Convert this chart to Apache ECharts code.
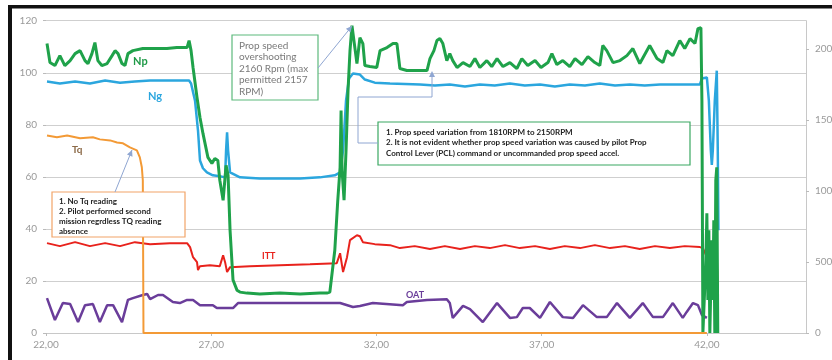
<!DOCTYPE html>
<html>
<head>
<meta charset="utf-8">
<script src="https://cdn.jsdelivr.net/npm/echarts@6/dist/echarts.min.js"></script>
<style>
  html, body { margin: 0; padding: 0; background: #fff; }
  #chart { width: 832px; height: 360px; }
</style>
</head>
<body>
<div id="chart"></div>
<script>
// time axis starts at 22,00 - data is stored in real time, shifted by X0 for the axis
const X0 = 22

// Np, prop speed (RPM, right axis)
const np = [
  [22.03, 2039], [22.12, 1905], [22.27, 1884], [22.42, 1954], [22.57, 1884], [22.73, 1919],
  [22.88, 1968], [23.03, 1989], [23.18, 1919], [23.27, 1898], [23.39, 1968], [23.48, 2046],
  [23.57, 1919], [23.69, 1884], [23.85, 1898], [24.00, 1954], [24.09, 1989], [24.18, 1968],
  [24.30, 1898], [24.39, 1884], [24.48, 1968], [24.63, 1989], [24.93, 2004], [25.24, 2004],
  [25.66, 2004], [25.96, 2011], [26.27, 2011], [26.33, 2060], [26.39, 1989], [26.45, 1870],
  [26.57, 1659], [26.66, 1518], [26.75, 1406], [26.90, 1237], [27.02, 1195], [27.11, 1230],
  [27.20, 1216], [27.26, 1076], [27.36, 935], [27.45, 1181], [27.51, 1111], [27.57, 724],
  [27.66, 373], [27.78, 302], [27.87, 288], [28.08, 281], [28.47, 274], [29.08, 281],
  [29.69, 274], [30.29, 281], [30.50, 281], [30.59, 288], [30.74, 583], [30.83, 935],
  [30.90, 1167], [30.93, 1568], [30.96, 1146], [31.02, 935], [31.08, 1286], [31.14, 1708],
  [31.20, 1989], [31.26, 2165], [31.32, 2151], [31.41, 1898], [31.50, 2081], [31.59, 2039],
  [31.65, 1884], [31.80, 1877], [32.01, 1870], [32.11, 1989], [32.32, 2011], [32.50, 2039],
  [32.62, 2039], [32.71, 1863], [32.92, 1849], [33.32, 1849], [33.53, 1849], [33.62, 1933],
  [33.74, 1989], [33.83, 2060], [33.92, 2074], [34.01, 2039], [34.13, 1919], [34.22, 1968],
  [34.31, 1919], [34.44, 1870], [34.62, 1905], [34.83, 1877], [34.98, 1933], [35.13, 1870],
  [35.34, 1919], [35.49, 1877], [35.65, 1933], [35.83, 1877], [36.04, 1905], [36.25, 1863],
  [36.40, 1933], [36.58, 1884], [36.80, 1919], [36.98, 1870], [37.19, 1905], [37.31, 1968],
  [37.46, 1891], [37.64, 1919], [37.85, 1877], [38.01, 1933], [38.22, 1891], [38.40, 1947],
  [38.61, 1905], [38.76, 1884], [38.85, 2025], [38.97, 1989], [39.16, 1905], [39.37, 1919],
  [39.58, 1954], [39.76, 2004], [39.97, 1898], [40.27, 2025], [40.49, 1933], [40.67, 1905],
  [40.79, 1989], [40.97, 1954], [41.18, 2060], [41.33, 2004], [41.49, 2074], [41.64, 2039],
  [41.73, 2144], [41.82, 2151], [41.85, 1638], [41.88, 0], [41.97, 513], [42.00, 844],
  [42.03, 232], [42.06, 724], [42.09, 0], [42.15, 654], [42.18, 232], [42.21, 794],
  [42.24, 0], [42.27, 1076], [42.30, 1167], [42.33, 0]
]

// Ng, gas generator speed (%, left axis)
const ng = [
  [22.03, 96.6], [22.42, 95.9], [22.88, 96.6], [23.33, 95.9], [23.79, 97.0], [24.24, 96.2],
  [24.69, 96.6], [25.15, 97.0], [25.75, 97.0], [26.33, 97.0], [26.39, 95.9], [26.51, 89.3],
  [26.60, 77.8], [26.66, 66.3], [26.75, 63.3], [26.87, 61.7], [27.05, 60.6], [27.26, 60.2],
  [27.42, 59.8], [27.45, 70.2], [27.48, 77.1], [27.51, 70.2], [27.57, 61.7], [27.87, 59.8],
  [28.47, 59.4], [29.08, 59.4], [29.69, 59.4], [30.29, 59.8], [30.74, 60.6], [30.90, 61.7],
  [30.99, 70.2], [31.08, 89.3], [31.17, 97.8], [31.29, 99.7], [31.50, 99.3], [31.65, 97.4],
  [31.95, 96.2], [32.41, 95.9], [33.32, 95.5], [33.77, 95.1], [34.22, 95.5], [34.68, 94.7],
  [35.13, 95.5], [35.58, 95.1], [36.04, 95.9], [36.49, 95.1], [36.95, 95.5], [37.40, 94.7],
  [37.85, 95.5], [38.31, 95.1], [38.76, 95.9], [39.22, 95.1], [39.67, 95.5], [40.12, 95.1],
  [40.58, 95.5], [41.03, 95.5], [41.79, 95.5], [41.85, 97.8], [42.00, 98.2], [42.06, 89.3],
  [42.12, 70.2], [42.15, 64.6], [42.18, 70.2], [42.24, 89.3], [42.30, 100.8], [42.33, 70.2],
  [42.35, 39.5]
]

// Tq, torque (%, left axis)
const tq = [
  [22.03, 75.9], [22.33, 75.2], [22.64, 75.9], [23.03, 74.8], [23.42, 75.2], [23.63, 74.4],
  [23.94, 74.0], [24.15, 73.2], [24.33, 72.9], [24.54, 71.3], [24.75, 70.2], [24.84, 67.5],
  [24.90, 63.7], [24.93, 58.7], [24.95, 0], [42.00, 0]
]

// ITT, inter turbine temperature (right axis)
const itt = [
  [22.03, 633], [22.42, 612], [22.88, 640], [23.33, 612], [23.79, 633], [24.24, 612],
  [24.69, 640], [25.15, 626], [25.75, 633], [26.27, 633], [26.36, 605], [26.45, 534],
  [26.57, 499], [26.60, 443], [26.66, 471], [26.96, 478], [27.26, 471], [27.36, 548],
  [27.42, 499], [27.48, 429], [27.57, 464], [28.17, 471], [29.08, 478], [29.99, 485],
  [30.80, 492], [30.90, 562], [30.99, 429], [31.11, 534], [31.20, 654], [31.41, 689],
  [31.50, 682], [31.59, 640], [31.95, 626], [32.41, 619], [32.71, 598], [33.16, 612],
  [33.62, 591], [34.07, 612], [34.53, 591], [34.98, 612], [35.43, 598], [35.89, 619],
  [36.34, 598], [36.80, 612], [37.25, 591], [37.70, 612], [38.16, 598], [38.61, 619],
  [39.07, 598], [39.52, 612], [39.97, 591], [40.43, 612], [40.88, 598], [41.33, 612],
  [41.79, 605], [41.88, 598], [42.00, 534], [42.03, 429], [42.15, 513], [42.24, 583],
  [42.30, 562], [42.33, 288]
]

// OAT, outside air temperature (left axis)
const oat = [
  [22.03, 13.4], [22.27, 5.0], [22.51, 11.5], [22.73, 11.1], [22.97, 4.2], [23.18, 10.7],
  [23.42, 11.1], [23.63, 4.2], [23.85, 10.7], [24.03, 10.7], [24.30, 4.2], [24.48, 12.7],
  [24.63, 13.4], [24.93, 14.6], [25.06, 15.0], [25.15, 13.0], [25.39, 14.6], [25.54, 14.6],
  [25.84, 11.9], [26.05, 11.5], [26.27, 12.7], [26.45, 12.7], [26.66, 10.7], [27.05, 10.7],
  [27.17, 9.6], [27.66, 9.6], [27.81, 11.5], [29.08, 11.5], [30.90, 11.5], [31.29, 10.0],
  [31.50, 10.4], [31.89, 11.5], [32.80, 10.7], [32.92, 11.9], [33.53, 12.7], [34.13, 13.0],
  [34.22, 11.5], [34.31, 5.8], [34.62, 10.4], [34.83, 9.2], [35.22, 4.2], [35.65, 11.5],
  [36.04, 5.8], [36.25, 6.1], [36.43, 9.6], [36.64, 9.6], [36.95, 5.8], [37.25, 11.9],
  [37.64, 6.1], [37.95, 5.8], [38.25, 10.7], [38.67, 6.1], [38.97, 6.1], [39.28, 11.5],
  [39.67, 5.8], [40.06, 11.5], [40.37, 6.1], [40.67, 6.1], [40.97, 11.5], [41.27, 5.8],
  [41.39, 8.1], [41.58, 11.5], [41.73, 10.7], [41.85, 6.9], [42.00, 5.8]
]

const noteSpeed = ['Prop speed', 'overshooting', '2160 Rpm (max', 'permitted 2157', 'RPM)']
const noteVariation = [
  '1. Prop speed variation from 1810RPM to 2150RPM',
  '2. It is not evident whether prop speed variation was caused by pilot Prop',
  'Control Lever (PCL) command or uncommanded prop speed accel.'
]
const noteTq = ['1. No Tq reading', '2. Pilot performed second', 'mission regrdless TQ reading', 'absence']

const FONT = 'Lato, "Open Sans", sans-serif'
const ARROW = '#8fa6d2'

const shift = (arr) => arr.map(([t, v]) => [t - X0, v])

const line = (name, data, color, width, axis) => ({
  name: name,
  type: 'line',
  yAxisIndex: axis,
  data: shift(data),
  showSymbol: false,
  lineStyle: { color: color, width: width },
  itemStyle: { color: color },
  animation: false
})

function arrowHead(x1, y1, x2, y2) {
  const a = Math.atan2(y2 - y1, x2 - x1)
  const l = 6, w = 3
  const bx = x2 - l * Math.cos(a), by = y2 - l * Math.sin(a)
  return {
    type: 'polygon', z: 101,
    shape: { points: [[x2, y2], [bx - w * Math.sin(a), by + w * Math.cos(a)], [bx + w * Math.sin(a), by - w * Math.cos(a)]] },
    style: { fill: ARROW }
  }
}

function box(x, y, w, h, color) {
  return {
    type: 'rect', z: 100,
    shape: { x: x, y: y, width: w, height: h },
    style: { fill: '#fff', stroke: color, lineWidth: 1.2 }
  }
}

function note(x, y, lines, size, weight, color, lh) {
  return {
    type: 'text', z: 102, x: x, y: y,
    style: { text: lines.join('\n'), font: `${weight} ${size}px ${FONT}`, fill: color, lineHeight: lh }
  }
}

function tag(x, y, text, size, color) {
  return {
    type: 'text', z: 102, x: x, y: y,
    style: { text: text, font: `bold ${size}px ${FONT}`, fill: color }
  }
}

const chart = echarts.init(document.getElementById('chart'))
const option = {
  backgroundColor: '#fff',
  animation: false,
  grid: { left: 46, right: 26, top: 20.7, bottom: 27, outerBoundsMode: 'none' },
  xAxis: {
    type: 'value',
    min: 0,
    max: 23,
    interval: 5,
    axisLine: { show: true, lineStyle: { color: '#c8c8c8' } },
    axisTick: { show: true, length: 3, lineStyle: { color: '#bbb' } },
    splitLine: { show: false },
    axisLabel: {
      color: '#9a9a9a', fontFamily: FONT, fontSize: 10, margin: 7,
      showMaxLabel: false,
      formatter: (v) => (v + X0).toFixed(2).replace('.', ',')
    }
  },
  yAxis: [
    {
      type: 'value',
      min: 0,
      max: 120,
      interval: 20,
      axisLine: { show: false },
      axisTick: { show: true, length: 3, lineStyle: { color: '#bbb' } },
      splitLine: { show: true, lineStyle: { color: '#cfcfcf', width: 1 } },
      axisLabel: { color: '#9a9a9a', fontFamily: FONT, fontSize: 10, margin: 9 }
    },
    {
      type: 'value',
      min: 0,
      max: 2200,
      interval: 500,
      position: 'right',
      axisLine: { show: true, lineStyle: { color: '#c8c8c8' } },
      axisTick: { show: true, length: 3, lineStyle: { color: '#bbb' } },
      splitLine: { show: false },
      axisLabel: {
        color: '#9a9a9a', fontFamily: FONT, fontSize: 10, margin: 9, showMaxLabel: false,
        formatter: (v) => String(v)
      }
    }
  ],
  series: [
    line('OAT', oat, '#6a3d9a', 2.5, 0),
    line('ITT', itt, '#e8221c', 2, 1),
    line('Ng', ng, '#2ba6de', 2.5, 0),
    line('Np', np, '#1fa24a', 3, 1),
    line('Tq', tq, '#f39a36', 2, 0)
  ],
  graphic: [
    // frame
    { type: 'rect', z: 110, shape: { x: 8, y: 5, width: 824, height: 3.5 }, style: { fill: '#111' } },
    { type: 'rect', z: 110, shape: { x: 8, y: 5, width: 4, height: 355 }, style: { fill: '#111' } },

    // series names
    tag(133, 56, 'Np', 11, '#1f9a48'),
    tag(148, 91, 'Ng', 11, '#2ba6de'),
    tag(72, 145, 'Tq', 10, '#8c6a48'),
    tag(262, 252, 'ITT', 9, '#e8221c'),
    tag(406, 291, 'OAT', 9, '#6a3d9a'),

    // prop speed overshoot
    { type: 'line', z: 101, shape: { x1: 318, y1: 68, x2: 352, y2: 26 }, style: { stroke: ARROW, lineWidth: 1 } },
    arrowHead(318, 68, 352, 26),
    box(232, 35, 86, 65, '#5db97c'),
    note(239, 40, noteSpeed, 10, 'normal', '#7a7a7a', 11.5),

    // prop speed variation
    { type: 'polyline', z: 101, shape: { points: [[378, 143], [358, 143], [358, 97], [432, 97], [432, 76]] }, style: { stroke: ARROW, lineWidth: 1, fill: null } },
    arrowHead(432, 97, 432, 71),
    box(378, 122, 312, 43, '#3aa862'),
    note(386, 127, noteVariation, 8, 'bold', '#222', 10.5),

    // no torque reading
    { type: 'line', z: 101, shape: { x1: 115, y1: 192, x2: 132, y2: 150 }, style: { stroke: ARROW, lineWidth: 1 } },
    arrowHead(115, 192, 132, 150),
    box(52, 192, 133, 45, '#f2a468'),
    note(59, 196, noteTq, 8, 'bold', '#222', 10)
  ]
}
chart.setOption(option)
</script>
</body>
</html>
